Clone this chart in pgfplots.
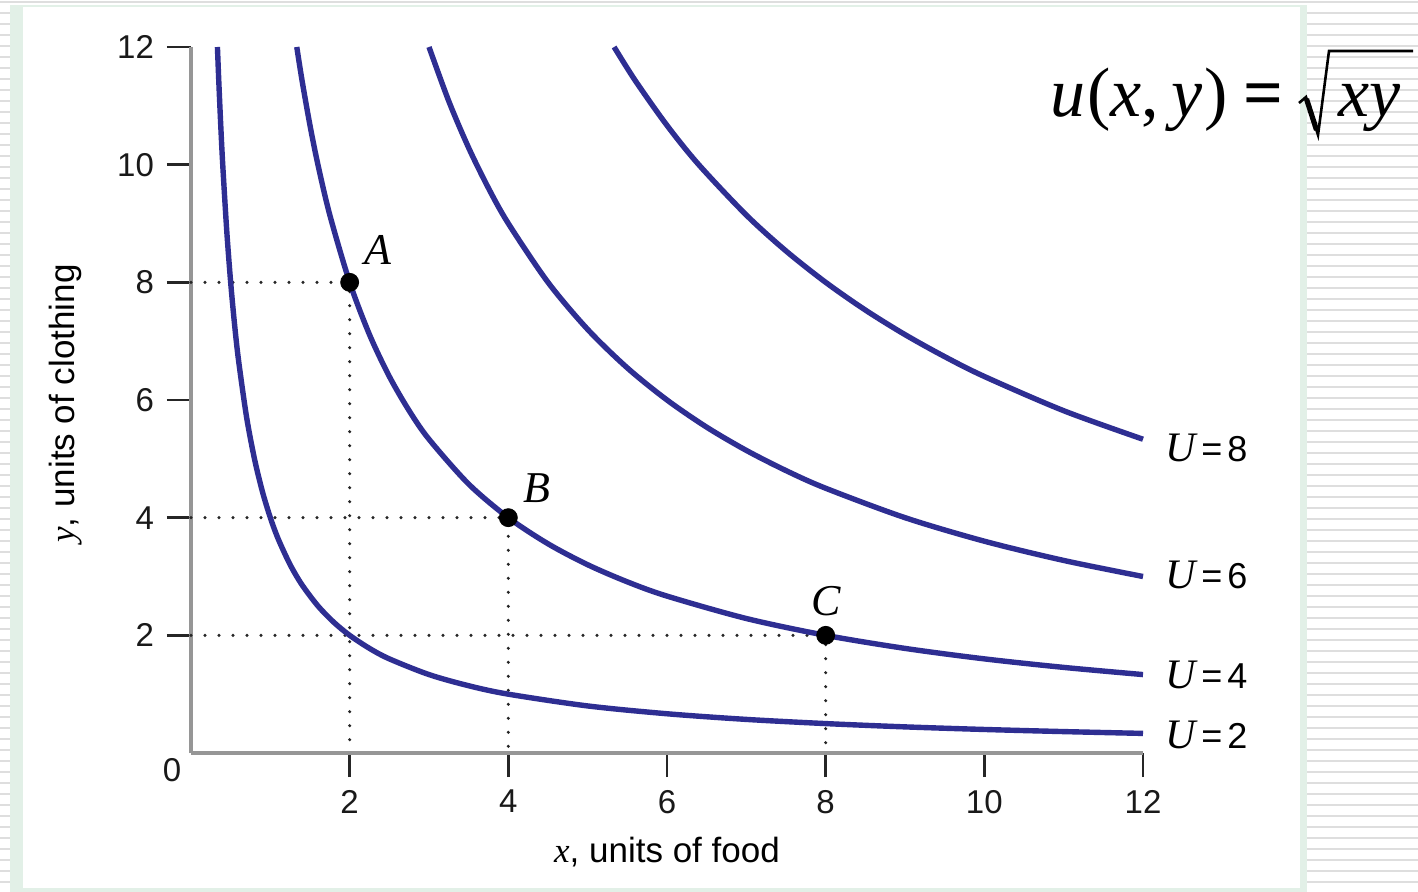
\documentclass[border=0pt]{standalone}
\usepackage{fontspec}
\setmainfont{Liberation Sans}
\newfontfamily\serif{Liberation Serif}
\usepackage{pgfplots}
\pgfplotsset{compat=1.18}

\definecolor{curveblue}{RGB}{46,46,146}
\definecolor{axisgrey}{RGB}{150,150,150}
\definecolor{rimgreen}{RGB}{226,240,231}
\definecolor{stripe}{RGB}{222,222,222}

% italic serif letter, as used for variables
\newcommand{\var}[1]{{\serif\itshape #1}}
% label of an indifference curve
\newcommand{\ulab}[1]{{\serif\itshape\fontsize{21}{24}\selectfont U}\kern2.5pt{=}\kern2.5pt#1}

% indifference curves x*y = U^2
\pgfplotstableread{
x y
0.3333 12
0.35 11.429
0.375 10.667
0.4 10
0.45 8.889
0.5 8
0.55 7.273
0.6 6.667
0.7 5.714
0.8 5
0.9 4.444
1 4
1.1 3.636
1.25 3.2
1.4 2.857
1.6 2.5
1.8 2.222
2 2
2.25 1.778
2.5 1.6
3 1.333
3.5 1.143
4 1
5 0.8
6 0.667
7 0.571
8 0.5
9 0.444
10 0.4
11 0.364
12 0.333
}\curveA
\pgfplotstableread{
x y
1.3333 12
1.4 11.429
1.5 10.667
1.6 10
1.75 9.143
2 8
2.25 7.111
2.5 6.4
2.75 5.818
3 5.333
3.5 4.571
4 4
4.5 3.556
5 3.2
5.5 2.909
6 2.667
7 2.286
8 2
9 1.778
10 1.6
11 1.455
12 1.333
}\curveB
\pgfplotstableread{
x y
3 12
3.25 11.077
3.5 10.286
3.75 9.6
4 9
4.5 8
5 7.2
5.5 6.545
6 6
6.5 5.538
7 5.143
7.5 4.8
8 4.5
9 4
10 3.6
11 3.273
12 3
}\curveC
\pgfplotstableread{
x y
5.3333 12
5.6 11.429
6 10.667
6.4 10
7 9.143
7.5 8.533
8 8
8.5 7.529
9 7.111
9.5 6.737
10 6.4
11 5.818
12 5.333
}\curveD

\begin{document}
\begin{tikzpicture}[x=0.5pt,y=-0.5pt]
\useasboundingbox (0,0) rectangle (1418,892);
% slide background
\fill[white] (0,0) rectangle (1418,892);
\fill[stripe] (0,1) rectangle (1418,3);
\foreach \k in {0,...,79} {
  \fill[stripe] (0,{12+11*\k}) rectangle (10,{14+11*\k});
  \fill[stripe] (1307,{12+11*\k}) rectangle (1418,{14+11*\k});
}
\fill[rimgreen] (10,5) rectangle (1307,892);
\fill[white] (23,7) rectangle (1300,888);

\begin{axis}[
  at={(95.5pt,-376.5pt)}, anchor=south west,
  scale only axis, width=476pt, height=353pt,
  xmin=0, xmax=12, ymin=0, ymax=12,
  axis x line*=bottom, axis y line*=left,
  axis line style={axisgrey, line width=2pt},
  xtick={2,4,...,12}, ytick={2,4,...,12},
  tick align=outside, major tick length=12pt,
  tick style={black!85, line width=1.2pt},
  ticklabel style={font=\fontsize{16.5}{19}\selectfont, text=black!90},
  xticklabel style={yshift=-3pt},
  yticklabel style={xshift=-3pt},
  /pgf/number format/assume math mode=true,
  clip=false,
  xlabel={\var{x}, units of food},
  ylabel={\var{y}, units of clothing},
  xlabel style={at={(axis description cs:0.5,-0.140)}, anchor=center, font=\fontsize{17.5}{20}\selectfont},
  ylabel style={at={(axis description cs:-0.132,0.495)}, anchor=center, font=\fontsize{17.5}{20}\selectfont},
]
% guide lines to the marked bundles
\pgfplotsset{guide/.style={black!85, line width=1.7pt, dash pattern=on 0pt off 7pt, line cap=round}}
\addplot[guide] coordinates {(0,8) (2,8) (2,0)};
\addplot[guide] coordinates {(0,4) (4,4) (4,0)};
\addplot[guide] coordinates {(0,2) (8,2) (8,0)};

\addplot[curveblue, line width=2.7pt, smooth] table {\curveA};
\addplot[curveblue, line width=2.7pt, smooth] table {\curveB};
\addplot[curveblue, line width=2.7pt, smooth] table {\curveC};
\addplot[curveblue, line width=2.7pt, smooth] table {\curveD};

\addplot[only marks, mark=*, mark size=4.5pt, black] coordinates {(2,8) (4,4) (8,2)};

\node[font=\serif\itshape\fontsize{22}{26}\selectfont] at (axis cs:2.36,8.55) {A};
\node[font=\serif\itshape\fontsize{22}{26}\selectfont] at (axis cs:4.36,4.5) {B};
\node[font=\serif\itshape\fontsize{22}{26}\selectfont] at (axis cs:8.0,2.58) {C};

\node[anchor=west, font=\fontsize{18}{22}\selectfont] at (axis cs:12.2,5.18) {\ulab{8}};
\node[anchor=west, font=\fontsize{18}{22}\selectfont] at (axis cs:12.2,3.03) {\ulab{6}};
\node[anchor=west, font=\fontsize{18}{22}\selectfont] at (axis cs:12.2,1.33) {\ulab{4}};
\node[anchor=west, font=\fontsize{18}{22}\selectfont] at (axis cs:12.2,0.31) {\ulab{2}};

\node[font=\fontsize{16.5}{19}\selectfont, text=black!90] at (axis cs:0,0) [xshift=-9.5pt, yshift=-8.5pt] {0};
\end{axis}

% utility function u(x,y) = sqrt(xy)
\begin{scope}[font=\serif\fontsize{35}{42}\selectfont]
\node[anchor=base west, inner sep=0pt] at (1050,117) {\var{u}\kern1pt(\var{x},\kern6pt\var{y}\kern1pt)};
\node[anchor=base, inner sep=0pt] at (1263,117) {\bfseries =};
\node[anchor=base west, inner sep=0pt] at (1338,117) {\var{xy}};
\draw[line width=1.3pt, line join=miter] (1299,103) -- (1306,97) -- (1318,135) -- (1329,51) -- (1413,51);
\draw[line width=2.6pt] (1306.5,99) -- (1316.5,130);
\end{scope}
\end{tikzpicture}
\end{document}
